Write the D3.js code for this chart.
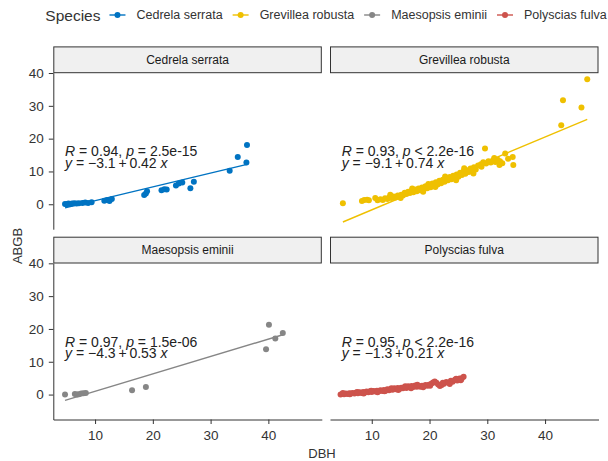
<!DOCTYPE html>
<html>
<head>
<meta charset="utf-8">
<script src="https://cdn.jsdelivr.net/npm/d3@7"></script>
<style>
  body { margin: 0; background: #fff; }
  svg { display: block; font-family: "Liberation Sans", Arial, sans-serif; }
</style>
</head>
<body>
<svg id="chart" width="608" height="461"></svg>
<script>
// facets, colours and fit labels
const species = ['Cedrela serrata', 'Grevillea robusta', 'Maesopsis eminii', 'Polyscias fulva'];
const colors = ['#0073C2', '#EFC000', '#868686', '#CD534C'];
const rValues = ['0.94', '0.93', '0.97', '0.95'];
const pLabels = ['= 2.5e-15', '< 2.2e-16', '= 1.5e-06', '< 2.2e-16'];
const intercepts = [-3.1, -9.1, -4.3, -1.3];
const slopes = [0.42, 0.74, 0.53, 0.21];
const xTicks = [10, 20, 30, 40];
const yTicks = [0, 10, 20, 30, 40];

// Cedrela serrata
const cedrelaDbh = [4.8, 5.1, 5.4, 5.7, 6.0, 6.4, 6.8, 7.2, 7.8, 8.3, 8.8, 9.4,
  11.6, 12.1, 12.5, 12.9, 18.5, 18.8, 19.0, 21.5, 22.0, 22.4, 24.0, 24.5, 25.1,
  26.5, 27.1, 33.3, 34.7, 36.2, 36.3];
const cedrelaAgb = [0.1, 0.0, 0.2, 0.1, 0.2, 0.3, 0.2, 0.3, 0.4, 0.5, 0.4, 0.6,
  1.1, 1.3, 1.0, 1.6, 2.8, 3.3, 4.0, 4.3, 4.6, 4.5, 5.7, 6.3, 6.6,
  4.9, 6.9, 10.2, 14.4, 12.7, 18.1];

// Grevillea robusta
const grevilleaDbh = [5.0, 8.3, 8.7, 9.2, 9.5,
  11.0, 11.5, 11.9, 12.3, 12.7, 13.0, 13.4, 13.8, 14.1, 14.5, 14.8, 15.1, 15.4, 15.7, 16.0,
  16.3, 16.6, 16.9, 17.2, 17.5, 17.8, 18.1, 18.4, 18.7, 19.0, 19.3, 19.6, 19.9, 20.2, 20.5,
  20.8, 21.1, 21.4, 21.7, 22.0, 22.3, 22.6, 22.9, 23.2, 23.5, 23.8, 24.1, 24.4, 24.7, 25.0,
  25.3, 25.6, 25.9, 26.2, 26.5, 26.8, 27.1, 27.4, 27.7, 28.0, 28.4, 28.9, 29.3, 29.6, 29.8,
  30.2, 30.6, 31.0, 31.4, 31.8, 32.2, 32.6, 33.1, 34.4, 34.5, 42.8, 43.1, 46.3, 47.3,
  10.6, 13.2, 15.0, 17.0, 18.9, 19.8, 21.0, 22.7, 24.6, 26.0, 27.6, 29.0, 31.2, 32.1, 33.6];
const grevilleaAgb = [0.3, 1.0, 1.3, 1.4, 1.2,
  1.2, 1.5, 1.3, 1.8, 1.6, 2.1, 1.9, 2.4, 2.1, 2.7, 2.4, 2.9, 2.7, 3.5, 3.1,
  3.8, 3.4, 4.1, 3.7, 4.5, 4.0, 4.8, 4.3, 5.1, 4.6, 5.5, 4.9, 5.8, 5.2, 6.3,
  5.6, 6.7, 6.0, 7.2, 6.4, 7.5, 6.9, 7.9, 7.3, 8.3, 7.6, 8.7, 8.0, 9.1, 8.4,
  9.6, 8.9, 10.1, 9.3, 10.4, 9.8, 10.9, 10.2, 11.3, 10.6, 11.8, 12.2, 12.8, 17.0, 12.4,
  13.1, 12.7, 13.4, 12.9, 13.6, 13.1, 12.5, 15.5, 14.4, 12.0, 24.1, 31.7, 29.5, 38.1,
  1.9, 2.9, 1.9, 4.8, 3.8, 6.2, 5.3, 8.5, 7.3, 11.0, 9.4, 11.4, 14.1, 12.0, 13.9];

// Maesopsis eminii
const maesopsisDbh = [4.8, 6.5, 6.9, 7.2, 7.6, 8.0, 8.4, 16.4, 18.8, 39.6, 40.1, 41.2, 42.5];
const maesopsisAgb = [0.0, 0.2, 0.0, 0.1, 0.3, 0.4, 0.5, 1.3, 2.3, 13.8, 21.3, 17.1, 18.8];

// Polyscias fulva
const polysciasDbh = [4.6, 4.9, 5.2, 5.5, 5.8, 6.1, 6.4, 6.7, 7.0, 7.3, 7.6, 7.9, 8.2, 8.5,
  8.8, 9.1, 9.4, 9.7, 10.0, 10.3, 10.6, 10.9, 11.2, 11.5, 11.8, 12.1, 12.4, 12.7, 13.0,
  13.3, 13.6, 13.9, 14.2, 14.5, 14.8, 15.1, 15.4, 15.7, 16.0, 16.3, 16.6, 16.9, 17.2,
  17.5, 17.8, 18.1, 18.4, 18.7, 19.0, 19.3, 19.6, 19.9, 20.3, 20.6, 20.9, 21.2, 21.5,
  21.8, 22.1, 22.5, 22.9, 23.3, 23.7, 24.0, 24.4, 24.8, 25.2, 25.6, 25.9,
  5.0, 6.2, 7.5, 8.6, 9.9, 11.0, 12.2, 13.4, 14.6, 15.8, 16.8, 17.9, 18.9, 20.1, 22.3,
  23.5, 24.6, 25.4];
const polysciasAgb = [0.0, 0.2, 0.1, 0.3, 0.2, 0.4, 0.3, 0.5, 0.3, 0.6, 0.4, 0.7, 0.5, 0.8,
  0.6, 0.9, 0.7, 1.0, 0.8, 1.1, 0.9, 1.2, 1.0, 1.3, 1.1, 1.4, 1.2, 1.6, 1.3,
  1.7, 1.5, 1.9, 1.6, 2.0, 1.7, 2.1, 1.9, 2.3, 2.0, 2.5, 2.2, 2.6, 2.3,
  2.8, 2.4, 2.6, 2.4, 2.7, 2.5, 2.9, 2.7, 3.0, 3.3, 3.7, 4.0, 3.6, 3.1,
  2.6, 2.9, 3.3, 3.8, 3.6, 4.2, 3.9, 4.5, 4.3, 4.9, 5.0, 5.4,
  0.5, 0.1, 0.8, 0.3, 1.2, 0.7, 1.0, 1.9, 1.4, 2.5, 1.9, 3.0, 2.2, 2.7, 3.6,
  3.2, 4.8, 4.4];

const dbhBySpecies = [cedrelaDbh, grevilleaDbh, maesopsisDbh, polysciasDbh];
const agbBySpecies = [cedrelaAgb, grevilleaAgb, maesopsisAgb, polysciasAgb];

// layout
const panelLeft = [53.3, 330];
const panelTop = [72.7, 263];
const panelW = 268.5;
const panelH = 156.5;
const stripH = 25.8;
const ink = '#333';

const svg = d3.select('#chart');
svg.append('rect').attr('width', 608).attr('height', 461).attr('fill', '#fff');

const x = d3.scaleLinear().domain([2.77, 49.25]).range([0, panelW]);
const y = d3.scaleLinear().domain([-7.6, 40.1]).range([panelH, 0]);
const fmtInt = d3.format('.1f');
const fmtSlope = d3.format('.2f');

species.forEach((name, i) => {
  const col = i % 2;
  const row = Math.floor(i / 2);
  const g = svg.append('g')
    .attr('transform', `translate(${panelLeft[col]},${panelTop[row]})`);

  // strip
  g.append('rect')
    .attr('x', 0.5).attr('y', -stripH)
    .attr('width', panelW - 1).attr('height', stripH)
    .attr('fill', '#F0F0F0').attr('stroke', ink).attr('stroke-width', 1);
  g.append('text')
    .attr('x', panelW / 2).attr('y', -stripH / 2)
    .attr('text-anchor', 'middle').attr('dominant-baseline', 'central')
    .attr('font-size', 12).attr('fill', '#1a1a1a')
    .text(name);

  const dbh = dbhBySpecies[i];
  const agb = agbBySpecies[i];

  // fitted line
  const ext = d3.extent(dbh);
  const fit = ext.map(d => [d, intercepts[i] + slopes[i] * d]);
  g.append('path')
    .datum(fit)
    .attr('d', d3.line().x(d => x(d[0])).y(d => y(d[1])))
    .attr('fill', 'none').attr('stroke', colors[i]).attr('stroke-width', 1.4);

  // points
  g.selectAll('.pt')
    .data(dbh.map((d, k) => [d, agb[k]]))
    .join('circle')
    .attr('class', 'pt')
    .attr('cx', d => x(d[0])).attr('cy', d => y(d[1]))
    .attr('r', 3).attr('fill', colors[i]);

  // correlation + equation
  const t1 = g.append('text')
    .attr('x', x(4.8)).attr('y', y(14.6))
    .attr('font-size', 14).attr('fill', '#222');
  t1.append('tspan').attr('font-style', 'italic').text('R');
  t1.append('tspan').text(` = ${rValues[i]}, `);
  t1.append('tspan').attr('font-style', 'italic').text('p');
  t1.append('tspan').text(` ${pLabels[i]}`);

  const t2 = g.append('text')
    .attr('x', x(4.8)).attr('y', y(11.0))
    .attr('font-size', 14).attr('fill', '#222');
  t2.append('tspan').attr('font-style', 'italic').text('y');
  t2.append('tspan').text(` = ${fmtInt(intercepts[i])}\u2009+\u2009${fmtSlope(slopes[i])} `);
  t2.append('tspan').attr('font-style', 'italic').text('x');

  // axes only on outer panels
  if (col === 0) {
    const ya = g.append('g')
      .call(d3.axisLeft(y).tickValues(yTicks).tickSize(4.5).tickSizeOuter(0).tickPadding(5));
    ya.selectAll('text').attr('font-size', 13.5).attr('fill', ink);
    ya.selectAll('line, path').attr('stroke', ink);
  }
  if (row === 1) {
    const xa = g.append('g')
      .attr('transform', `translate(0,${panelH})`)
      .call(d3.axisBottom(x).tickValues(xTicks).tickSize(4.5).tickSizeOuter(0).tickPadding(6));
    xa.selectAll('text').attr('font-size', 13.5).attr('fill', ink);
    xa.selectAll('line, path').attr('stroke', ink);
  }
});

// axis titles
svg.append('text')
  .attr('x', 322).attr('y', 458)
  .attr('text-anchor', 'middle').attr('font-size', 13).attr('fill', ink)
  .text('DBH');
svg.append('text')
  .attr('transform', 'translate(22,246) rotate(-90)')
  .attr('text-anchor', 'middle').attr('font-size', 13).attr('fill', ink)
  .text('ABGB');

// legend across the top, centred over the panels
const legend = svg.append('g');
const title = legend.append('text')
  .attr('y', 15).attr('dominant-baseline', 'central')
  .attr('font-size', 15.5).attr('fill', ink)
  .text('Species');
let cursor = title.node().getComputedTextLength() + 9;
species.forEach((name, i) => {
  legend.append('line')
    .attr('x1', cursor).attr('x2', cursor + 16)
    .attr('y1', 15).attr('y2', 15)
    .attr('stroke', colors[i]).attr('stroke-width', 1.4);
  legend.append('circle')
    .attr('cx', cursor + 8).attr('cy', 15).attr('r', 3).attr('fill', colors[i]);
  const lbl = legend.append('text')
    .attr('x', cursor + 27).attr('y', 15).attr('dominant-baseline', 'central')
    .attr('font-size', 12.5).attr('fill', ink)
    .text(name);
  cursor += 27 + lbl.node().getComputedTextLength() + 10;
});
const legendW = cursor - 10;
legend.attr('transform', `translate(${326 - legendW / 2},0)`);
</script>
</body>
</html>
